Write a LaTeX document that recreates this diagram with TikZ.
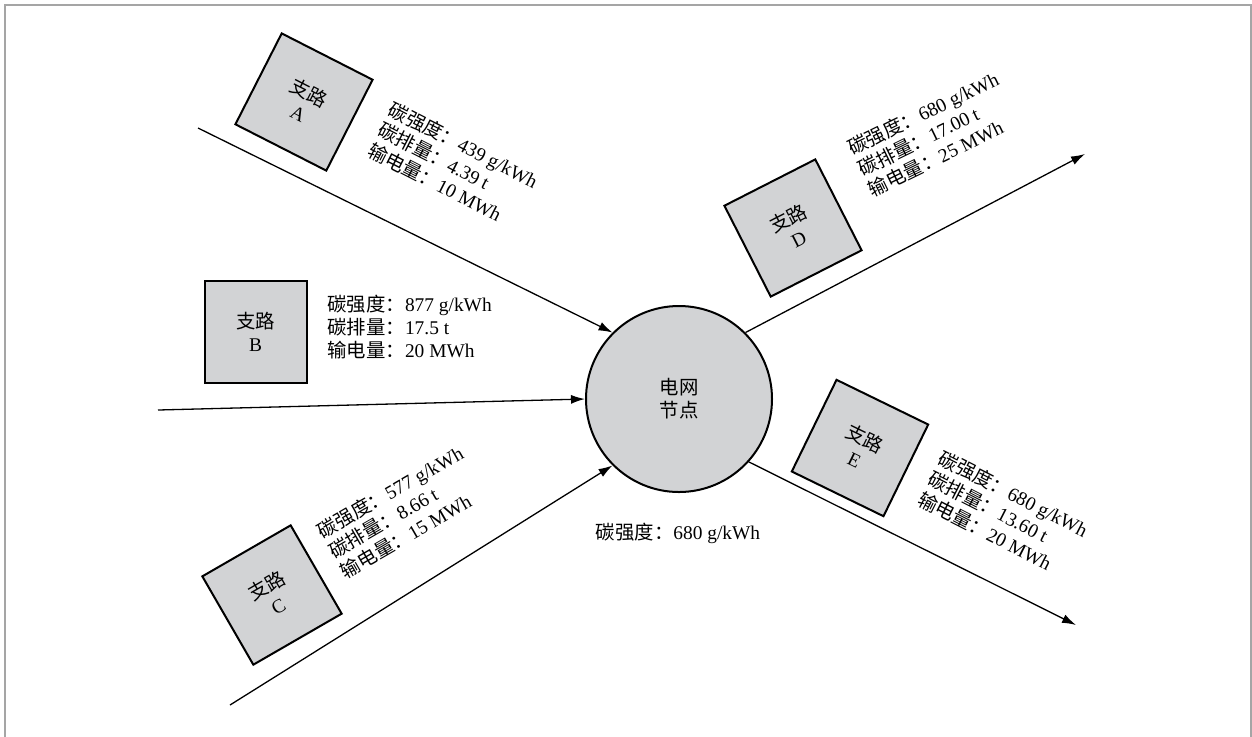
\documentclass[tikz,border=0pt]{standalone}
\usepackage{fontspec}
\setmainfont{Liberation Serif}
\newfontfamily\cjk{Noto Sans CJK SC}
\usetikzlibrary{arrows.meta}
\newcommand{\zh}[1]{{\cjk #1}}
\newcommand{\labfont}{\fontsize{9.7}{11.5}\selectfont}
\definecolor{boxgray}{RGB}{210,211,213}
\definecolor{framegray}{RGB}{165,165,165}
\tikzset{
  box/.style={draw, line width=1pt, fill=boxgray, minimum size=51pt, inner sep=0pt, align=center, font=\labfont},
  hub/.style={circle, draw, line width=1pt, fill=boxgray, minimum size=93pt, inner sep=0pt, align=center, font=\labfont},
  info/.style={align=left, inner sep=0pt, font=\labfont},
  conn/.style={line width=0.65pt, -{Latex[length=7pt,width=4.5pt]}}
}
\begin{document}
\begin{tikzpicture}[x=0.5pt,y=-0.5pt]
\useasboundingbox (0,0) rectangle (1252,736);
\draw[framegray, line width=1pt] (5,740) -- (5,5) -- (1250.5,5) -- (1250.5,740);

% hub
\node[hub] (N) at (679,399) {\zh{电网}\\\zh{节点}};
\node[info] (Nlab) at (678,533) {\zh{碳强度：}680 g/kWh};

% branch boxes
\node[box, rotate=-27] (A) at (304,102) {\zh{支路}\\A};
\node[box] (B) at (255.5,331.5) {\zh{支路}\\B};
\node[box, rotate=30] (C) at (272,595) {\zh{支路}\\C};
\node[box, rotate=27] (D) at (793,228) {\zh{支路}\\D};
\node[box, rotate=-26] (E) at (860,448) {\zh{支路}\\E};

% info labels
\node[info, rotate=-27, anchor=west] (Ai) at (379.5,128) {\zh{碳强度：}439 g/kWh\\\zh{碳排量：}4.39 t\\\zh{输电量：}10 MWh};
\node[info, anchor=west] (Bi) at (327,327) {\zh{碳强度：}877 g/kWh\\\zh{碳排量：}17.5 t\\\zh{输电量：}20 MWh};
\node[info, rotate=30, anchor=west] (Ci) at (330,553) {\zh{碳强度：}577 g/kWh\\\zh{碳排量：}8.66 t\\\zh{输电量：}15 MWh};
\node[info, rotate=26, anchor=west] (Di) at (859,170) {\zh{碳强度：}680 g/kWh\\\zh{碳排量：}17.00 t\\\zh{输电量：}25 MWh};
\node[info, rotate=-27, anchor=west] (Ei) at (929.5,476.7) {\zh{碳强度：}680 g/kWh\\\zh{碳排量：}13.60 t\\\zh{输电量：}20 MWh};

% free ends
\coordinate (As) at (198,128);
\coordinate (Bs) at (158,410);
\coordinate (Cs) at (230,705);
\coordinate (De) at (1085,154);
\coordinate (Ee) at (1076,625);

% connectors
\draw[conn] (As) -- (N.135);
\draw[conn] (Bs) -- (N.180);
\draw[conn] (Cs) -- (N.225);
\draw[conn] (N.45) -- (De);
\draw[conn] (N.-42) -- (Ee);
\end{tikzpicture}
\end{document}
